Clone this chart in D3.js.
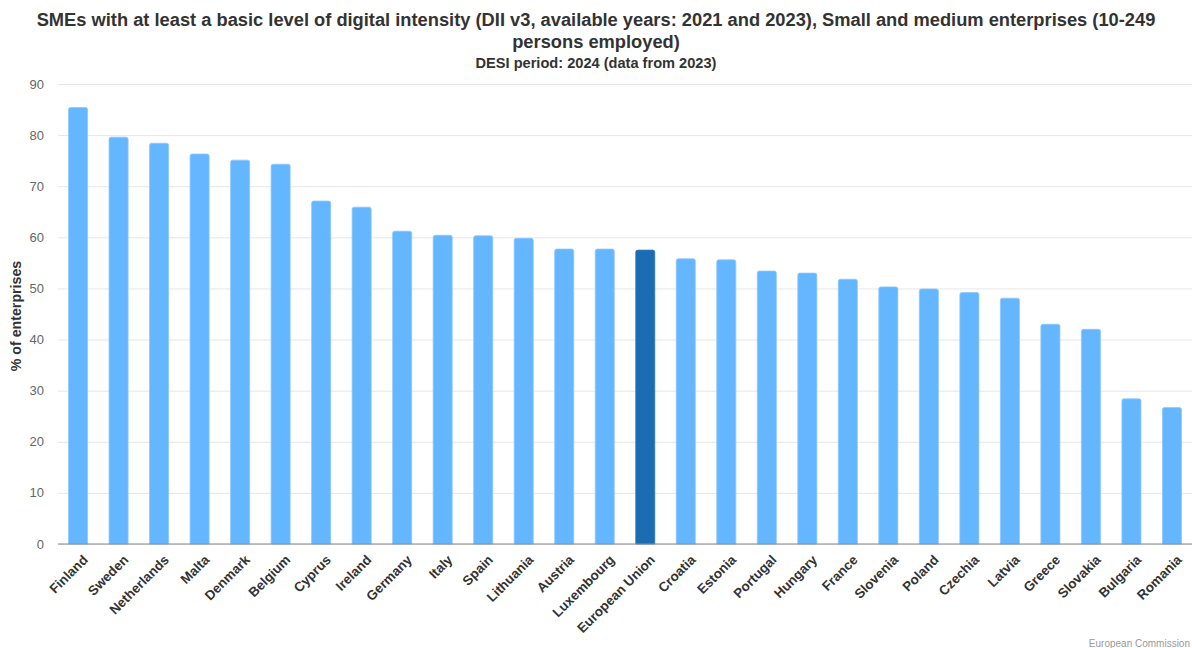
<!DOCTYPE html>
<html>
<head>
<meta charset="utf-8">
<script src="https://cdn.jsdelivr.net/npm/d3@7"></script>
<style>
  body { margin: 0; background: #fff; font-family: "Liberation Sans", Arial, sans-serif; }
  .grid line { stroke: #e6e6e6; }
  .grid path { display: none; }
</style>
</head>
<body>
<svg id="chart"></svg>
<script>
// data
var countries = ["Finland", "Sweden", "Netherlands", "Malta", "Denmark", "Belgium", "Cyprus", "Ireland",
  "Germany", "Italy", "Spain", "Lithuania", "Austria", "Luxembourg", "European Union", "Croatia",
  "Estonia", "Portugal", "Hungary", "France", "Slovenia", "Poland", "Czechia", "Latvia", "Greece",
  "Slovakia", "Bulgaria", "Romania"];
var values = [85.4, 79.6, 78.4, 76.3, 75.1, 74.3, 67.1, 65.9, 61.2, 60.4, 60.3, 59.8, 57.7, 57.7, 57.5,
  55.8, 55.6, 53.4, 53.0, 51.8, 50.3, 49.9, 49.2, 48.1, 43.0, 42.0, 28.4, 26.7];
var yTicks = [0, 10, 20, 30, 40, 50, 60, 70, 80, 90];

var W = 1192, H = 648;
var margin = {top: 84, right: 0, bottom: 104, left: 58},
    width = W - margin.left - margin.right,
    height = H - margin.top - margin.bottom;

var svg = d3.select("#chart").attr("width", W).attr("height", H);

// titles
svg.append("text").attr("x", W / 2).attr("y", 26).attr("text-anchor", "middle")
  .style("font-size", "18.3px").style("font-weight", "bold").style("fill", "#333")
  .text("SMEs with at least a basic level of digital intensity (DII v3, available years: 2021 and 2023), Small and medium enterprises (10-249");
svg.append("text").attr("x", W / 2).attr("y", 48).attr("text-anchor", "middle")
  .style("font-size", "18.3px").style("font-weight", "bold").style("fill", "#333")
  .text("persons employed)");
svg.append("text").attr("x", W / 2).attr("y", 68).attr("text-anchor", "middle")
  .style("font-size", "14.6px").style("font-weight", "bold").style("fill", "#333")
  .text("DESI period: 2024 (data from 2023)");

var g = svg.append("g").attr("transform", "translate(" + margin.left + "," + margin.top + ")");

var x = d3.scaleBand().domain(countries).range([0, width]).paddingInner(0.53).paddingOuter(0.26);
var y = d3.scaleLinear().domain([0, 90]).range([height, 0]);

// gridlines
g.append("g").attr("class", "grid")
  .call(d3.axisLeft(y).tickValues(yTicks).tickSize(-width).tickFormat(""));

// y labels
g.selectAll(".ylab").data(yTicks).enter().append("text")
  .attr("x", -14).attr("y", function(d) { return y(d); }).attr("dy", "0.35em")
  .attr("text-anchor", "end")
  .style("font-size", "13px").style("fill", "#666")
  .text(function(d) { return d; });

svg.append("text")
  .attr("transform", "translate(21," + (margin.top + height / 2 + 2) + ") rotate(-90)")
  .attr("text-anchor", "middle")
  .style("font-size", "14.2px").style("font-weight", "bold").style("fill", "#333")
  .text("% of enterprises");

// bars with slightly rounded tops
g.selectAll(".bar").data(countries).enter().append("path")
  .attr("class", "bar")
  .attr("d", function(d, i) {
    var x0 = x(d), w = x.bandwidth(), y0 = y(values[i]), r = 2;
    return "M" + x0 + "," + height + "V" + (y0 + r) + "Q" + x0 + "," + y0 + " " + (x0 + r) + "," + y0 +
      "H" + (x0 + w - r) + "Q" + (x0 + w) + "," + y0 + " " + (x0 + w) + "," + (y0 + r) + "V" + height + "Z";
  })
  .style("fill", function(d) { return d === "European Union" ? "#1a6db3" : "#64b6fe"; })
  .style("stroke", function(d) { return d === "European Union" ? "#2f7bbd" : "#8cc8ff"; })
  .style("stroke-width", 0.8);

// baseline
g.append("line").attr("x1", 0).attr("x2", width).attr("y1", height).attr("y2", height)
  .style("stroke", "#888").style("stroke-width", 1.2);

// x labels
g.selectAll(".xlab").data(countries).enter().append("text")
  .attr("transform", function(d) {
    return "translate(" + (x(d) + x.bandwidth() / 2 + 4) + "," + (height + 10) + ") rotate(-45)";
  })
  .attr("text-anchor", "end").attr("dy", "0.7em")
  .style("font-size", "13.4px").style("font-weight", "bold").style("fill", "#333")
  .text(function(d) { return d; });

svg.append("text").attr("x", W - 2).attr("y", H - 1).attr("text-anchor", "end")
  .style("font-size", "10px").style("fill", "#999")
  .text("European Commission");
</script>
</body>
</html>
